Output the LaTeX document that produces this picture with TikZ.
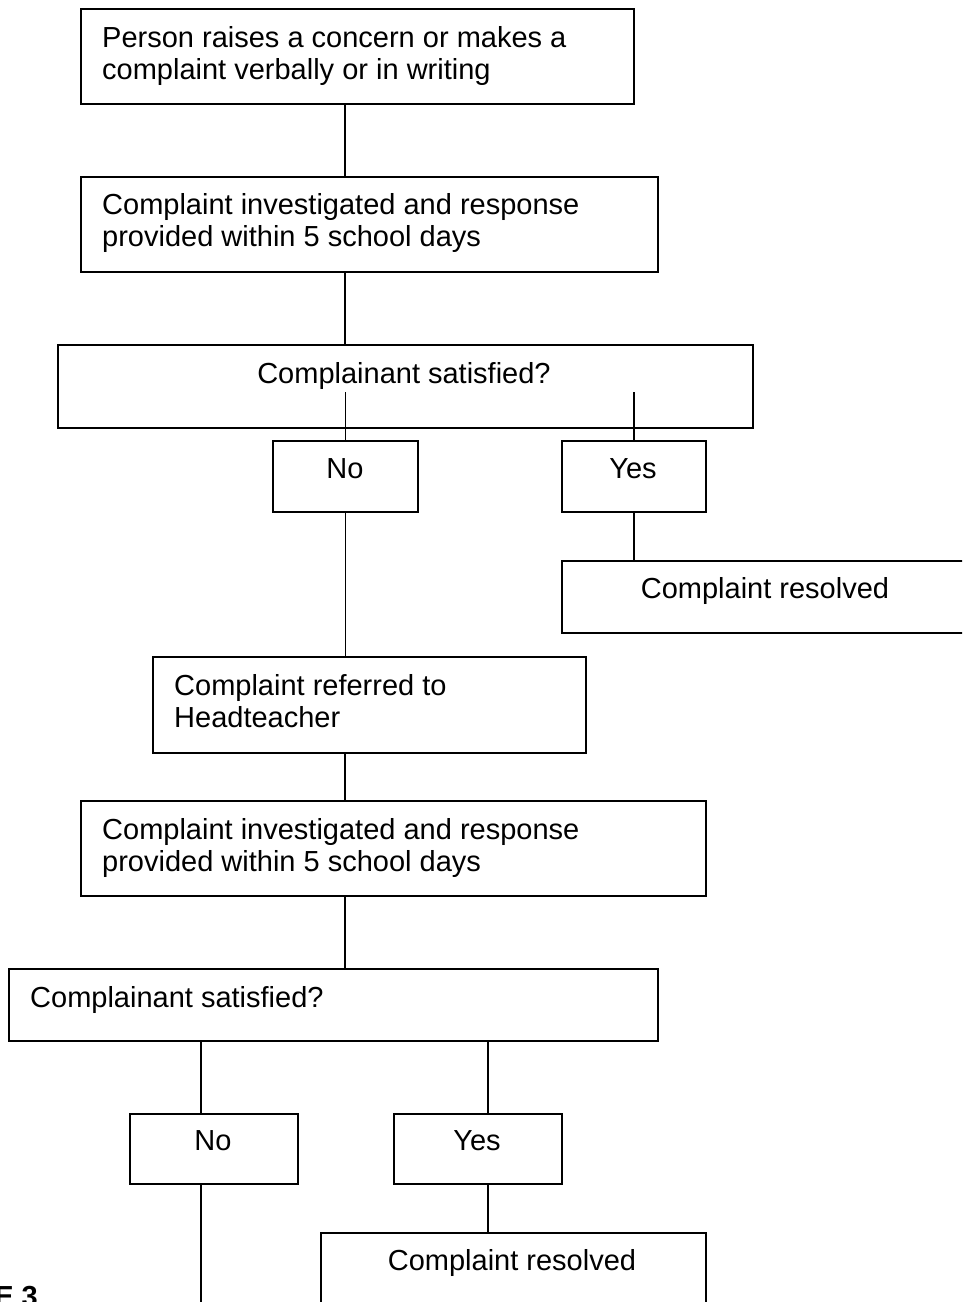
\documentclass[tikz,border=0pt]{standalone}
\usepackage{fontspec}
\setmainfont{Liberation Sans}
\usetikzlibrary{positioning, calc}
\tikzset{
  flow/.style={
	x=1pt, y=-1pt, % one unit is one pixel of the page, y runs down
	every node/.style={font=\fontsize{29}{32}\selectfont},
  },
  box/.style={draw, line width=1.9pt, inner sep=0pt, anchor=north west}, % empty frame
  txt/.style={inner sep=0pt, align=left, anchor=base west}, % text set left in a frame, base is last line
  mid/.style={inner sep=0pt, anchor=base}, % text set centred in a frame
  link/.style={line width=1.7pt},
}

\begin{document}
\begin{tikzpicture}[flow]
	  \useasboundingbox (0,0) rectangle (962,1302);
	  \clip (0,0) rectangle (962,1302);
	  % frames
	  \node[box, minimum width=553pt, minimum height=95pt] (start) at (80,8) {};
	  \node[box, minimum width=577pt, minimum height=95pt] (inv1) at (80,176) {};
	  \node[box, minimum width=695pt, minimum height=83pt] (sat1) at (57,344) {};
	  \node[box, minimum width=145pt, minimum height=71pt] (no1) at (272,440) {};
	  \node[box, minimum width=144pt, minimum height=71pt] (yes1) at (561,440) {};
	  \node[box, minimum width=420pt, minimum height=72pt] (res1) at (561,560) {};
	  \node[box, minimum width=433pt, minimum height=96pt] (head) at (152,656) {};
	  \node[box, minimum width=625pt, minimum height=95pt] (inv2) at (80,800) {};
	  \node[box, minimum width=649pt, minimum height=72pt] (sat2) at (8,968) {};
	  \node[box, minimum width=168pt, minimum height=70pt] (no2) at (129,1113) {};
	  \node[box, minimum width=168pt, minimum height=70pt] (yes2) at (393,1113) {};
	  \node[box, minimum width=385pt, minimum height=100pt] (res2) at (320,1232) {};
	  % texts
	  \node[txt] (start-t) at (102,79) {Person raises a concern or makes a\\complaint verbally or in writing};
	  \node[txt] (inv1-t) at (102,246) {Complaint investigated and response\\provided within 5 school days};
	  \node[mid] (sat1-t) at (404,383) {Complainant satisfied?};
	  \node[mid] (no1-t) at (345,478) {No};
	  \node[mid] (yes1-t) at (633,478) {Yes};
	  \node[mid] (res1-t) at (765,598) {Complaint resolved};
	  \node[txt] (head-t) at (174,727) {Complaint referred to\\Headteacher};
	  \node[txt] (inv2-t) at (102,871) {Complaint investigated and response\\provided within 5 school days};
	  \node[txt] (sat2-t) at (30,1007) {Complainant satisfied?};
	  \node[mid] (no2-t) at (213,1150) {No};
	  \node[mid] (yes2-t) at (477,1150) {Yes};
	  \node[mid] (res2-t) at (512,1270) {Complaint resolved};
	  \node[inner sep=0pt, anchor=base east, font=\fontsize{29}{32}\selectfont\bfseries] (stage) at (38,1306) {E 3};
	  % connectors
	  \coordinate (spine) at (345,0);
	  \coordinate (drop1) at (0,392);
	  \coordinate (left2) at (201,0);
	  \coordinate (right2) at (488,0);
	  \coordinate (tail) at (201,1302);
	  \draw[link] (start.south -| spine) -- (inv1.north -| spine)
		  (inv1.south -| spine) -- (sat1.north -| spine)
		  (no1.north) -- (no1.north |- drop1)
		  (yes1.north) -- (yes1.north |- drop1)
		  (yes1.south) -- (res1.north -| yes1.south)
		  (no1.south) -- (head.north -| no1.south)
		  (head.south -| spine) -- (inv2.north -| spine)
		  (inv2.south -| spine) -- (sat2.north -| spine)
		  (sat2.south -| left2) -- (no2.north -| left2)
		  (sat2.south -| right2) -- (yes2.north -| right2)
		  (yes2.south -| right2) -- (res2.north -| right2)
		  (no2.south -| tail) -- (tail)
	  ;
\end{tikzpicture}
\end{document}
